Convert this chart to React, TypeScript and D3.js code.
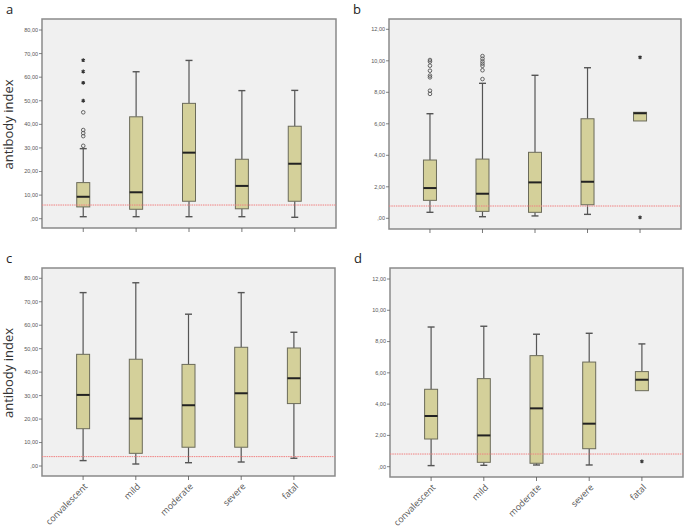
import React from "react";
import * as d3 from "d3";

const categories = ["convalescent", "mild", "moderate", "severe", "fatal"];

// Panel a (0–80 scale)
const aMin = [0.85, 0.85, 0.85, 0.85, 0.6];
const aQ1 = [5.0, 4.0, 7.4, 4.2, 7.4];
const aMedian = [9.3, 11.2, 28.0, 13.9, 23.3];
const aQ3 = [15.3, 43.2, 48.9, 25.2, 39.2];
const aMax = [29.7, 62.3, 67.1, 54.3, 54.4];
const aCircles = [
  { cat: "convalescent", value: 30.9 },
  { cat: "convalescent", value: 35.0 },
  { cat: "convalescent", value: 36.3 },
  { cat: "convalescent", value: 37.6 },
  { cat: "convalescent", value: 45.1 },
];
const aStars = [
  { cat: "convalescent", value: 50.0 },
  { cat: "convalescent", value: 57.6 },
  { cat: "convalescent", value: 62.4 },
  { cat: "convalescent", value: 67.2 },
];
const aCutoff = 5.8;

// Panel b (0–12 scale)
const bMin = [0.38, 0.1, 0.15, 0.25, 6.18];
const bQ1 = [1.14, 0.44, 0.38, 0.86, 6.18];
const bMedian = [1.92, 1.56, 2.28, 2.32, 6.67];
const bQ3 = [3.7, 3.76, 4.19, 6.32, 6.73];
const bMax = [6.64, 8.57, 9.08, 9.56, 6.73];
const bCircles = [
  { cat: "convalescent", value: 10.05 },
  { cat: "convalescent", value: 9.95 },
  { cat: "convalescent", value: 9.69 },
  { cat: "convalescent", value: 9.37 },
  { cat: "convalescent", value: 9.06 },
  { cat: "convalescent", value: 8.95 },
  { cat: "convalescent", value: 8.1 },
  { cat: "convalescent", value: 7.9 },
  { cat: "mild", value: 10.3 },
  { cat: "mild", value: 10.13 },
  { cat: "mild", value: 9.96 },
  { cat: "mild", value: 9.82 },
  { cat: "mild", value: 9.68 },
  { cat: "mild", value: 9.4 },
  { cat: "mild", value: 8.84 },
];
const bStars = [
  { cat: "fatal", value: 10.22 },
  { cat: "fatal", value: 0.06 },
];
const bCutoff = 0.78;

// Panel c (0–80 scale)
const cMin = [2.3, 0.85, 1.4, 1.7, 3.3];
const cQ1 = [15.9, 5.4, 8.0, 8.0, 26.6];
const cMedian = [30.3, 20.2, 25.9, 31.0, 37.4];
const cQ3 = [47.6, 45.5, 43.3, 50.6, 50.3];
const cMax = [73.9, 78.1, 64.7, 73.9, 57.0];
const cCircles: { cat: string; value: number }[] = [];
const cStars: { cat: string; value: number }[] = [];
const cCutoff = 4.0;

// Panel d (0–12 scale)
const dMin = [0.07, 0.09, 0.11, 0.11, 4.86];
const dQ1 = [1.77, 0.28, 0.22, 1.15, 4.86];
const dMedian = [3.24, 2.0, 3.73, 2.75, 5.56];
const dQ3 = [4.95, 5.63, 7.1, 6.69, 6.08];
const dMax = [8.93, 8.98, 8.47, 8.53, 7.85];
const dCircles: { cat: string; value: number }[] = [];
const dStars = [{ cat: "fatal", value: 0.34 }];
const dCutoff = 0.81;

const ticks80 = [0, 10, 20, 30, 40, 50, 60, 70, 80];
const ticks12 = [0, 2, 4, 6, 8, 10, 12];

const fmt = (v: number) => (v === 0 ? ",00" : v.toFixed(2).replace(".", ","));

type PanelProps = {
  letter: string;
  x0: number;
  x1: number;
  y0: number;
  y1: number;
  zeroY: number;
  topTickY: number;
  topTick: number;
  ticks: number[];
  min: number[];
  q1: number[];
  median: number[];
  q3: number[];
  max: number[];
  circles: { cat: string; value: number }[];
  stars: { cat: string; value: number }[];
  cutoff: number;
  yTitle: boolean;
  xLabels: boolean;
};

function Panel(p: PanelProps) {
  const x = d3.scalePoint<string>().domain(categories).range([p.x0, p.x1]).padding(0.78);
  const y = d3.scaleLinear().domain([0, p.topTick]).range([p.zeroY, p.topTickY]);
  const bw = 13;
  const cap = 7;
  const star = d3.symbol().type(d3.symbolAsterisk).size(10)();
  return (
    <g>
      <text x={p.x0 - 36} y={p.y0 - 5} fontSize={13} fill="#222" fontFamily="Open Sans, sans-serif">
        {p.letter}
      </text>
      <rect x={p.x0} y={p.y0} width={p.x1 - p.x0} height={p.y1 - p.y0} fill="#f0f0f0" stroke="#8a8a8a" strokeWidth={1.5} />
      {p.ticks.map((t) => (
        <g key={t}>
          <line x1={p.x0 - 3} x2={p.x0} y1={y(t)} y2={y(t)} stroke="#666" strokeWidth={0.8} />
          <text x={p.x0 - 4} y={y(t)} dy="0.35em" textAnchor="end" fontSize={5.5} fill="#555" fontFamily="Arial, sans-serif">
            {fmt(t)}
          </text>
        </g>
      ))}
      {categories.map((c) => (
        <line key={c} x1={x(c)} x2={x(c)} y1={p.y1} y2={p.y1 + 4} stroke="#555" strokeWidth={0.8} />
      ))}
      {categories.map((c, i) => {
        const cx = x(c) as number;
        return (
          <g key={c}>
            {p.max[i] > p.q3[i] && (
              <>
                <line x1={cx} x2={cx} y1={y(p.q3[i])} y2={y(p.max[i])} stroke="#555" strokeWidth={1.2} />
                <line x1={cx - cap / 2} x2={cx + cap / 2} y1={y(p.max[i])} y2={y(p.max[i])} stroke="#555" strokeWidth={1.4} />
              </>
            )}
            {p.min[i] < p.q1[i] && (
              <>
                <line x1={cx} x2={cx} y1={y(p.q1[i])} y2={y(p.min[i])} stroke="#555" strokeWidth={1.2} />
                <line x1={cx - cap / 2} x2={cx + cap / 2} y1={y(p.min[i])} y2={y(p.min[i])} stroke="#555" strokeWidth={1.4} />
              </>
            )}
            <rect
              x={cx - bw / 2}
              y={y(p.q3[i])}
              width={bw}
              height={y(p.q1[i]) - y(p.q3[i])}
              fill="#d4d09a"
              stroke="#6b6b5a"
              strokeWidth={1}
            />
            <line x1={cx - bw / 2} x2={cx + bw / 2} y1={y(p.median[i])} y2={y(p.median[i])} stroke="#222" strokeWidth={2} />
          </g>
        );
      })}
      {p.circles.map((o, i) => (
        <circle key={"c" + i} cx={x(o.cat)} cy={y(o.value)} r={1.8} fill="none" stroke="#555" strokeWidth={0.9} />
      ))}
      {p.stars.map((o, i) => (
        <path key={"s" + i} d={star as string} transform={`translate(${x(o.cat)},${y(o.value)})`} stroke="#333" strokeWidth={1.2} fill="none" />
      ))}
      <line x1={p.x0} x2={p.x1} y1={y(p.cutoff)} y2={y(p.cutoff)} stroke="#f08080" strokeWidth={1} strokeDasharray="1.5,0.8" />
      {p.yTitle && (
        <text
          transform={`translate(${p.x0 - 29},${(p.y0 + p.y1) / 2 + 1}) rotate(-90)`}
          textAnchor="middle"
          fontSize={13}
          fill="#333"
          fontFamily="Open Sans, sans-serif"
        >
          antibody index
        </text>
      )}
      {p.xLabels &&
        categories.map((c) => (
          <text
            key={c}
            transform={`translate(${(x(c) as number) + 5},${p.y1 + 11}) rotate(-45)`}
            textAnchor="end"
            fontSize={9}
            fill="#555"
            fontFamily="Open Sans, sans-serif"
          >
            {c}
          </text>
        ))}
    </g>
  );
}

export default function App() {
  return (
    <svg width={685} height={529} style={{ position: "absolute", left: 0, top: 0, background: "#fff" }}>
      <Panel letter="a" x0={42} x1={336} y0={19} y1={228} zeroY={218.7} topTickY={30} topTick={80} ticks={ticks80}
        min={aMin} q1={aQ1} median={aMedian} q3={aQ3} max={aMax} circles={aCircles} stars={aStars} cutoff={aCutoff} yTitle xLabels={false} />
      <Panel letter="b" x0={389} x1={681} y0={19} y1={229} zeroY={218.3} topTickY={29.3} topTick={12} ticks={ticks12}
        min={bMin} q1={bQ1} median={bMedian} q3={bQ3} max={bMax} circles={bCircles} stars={bStars} cutoff={bCutoff} yTitle={false} xLabels={false} />
      <Panel letter="c" x0={42} x1={335} y0={268} y1={476} zeroY={466} topTickY={278.3} topTick={80} ticks={ticks80}
        min={cMin} q1={cQ1} median={cMedian} q3={cQ3} max={cMax} circles={cCircles} stars={cStars} cutoff={cCutoff} yTitle xLabels />
      <Panel letter="d" x0={390} x1={683} y0={268} y1={477} zeroY={466.7} topTickY={279} topTick={12} ticks={ticks12}
        min={dMin} q1={dQ1} median={dMedian} q3={dQ3} max={dMax} circles={dCircles} stars={dStars} cutoff={dCutoff} yTitle={false} xLabels />
    </svg>
  );
}
